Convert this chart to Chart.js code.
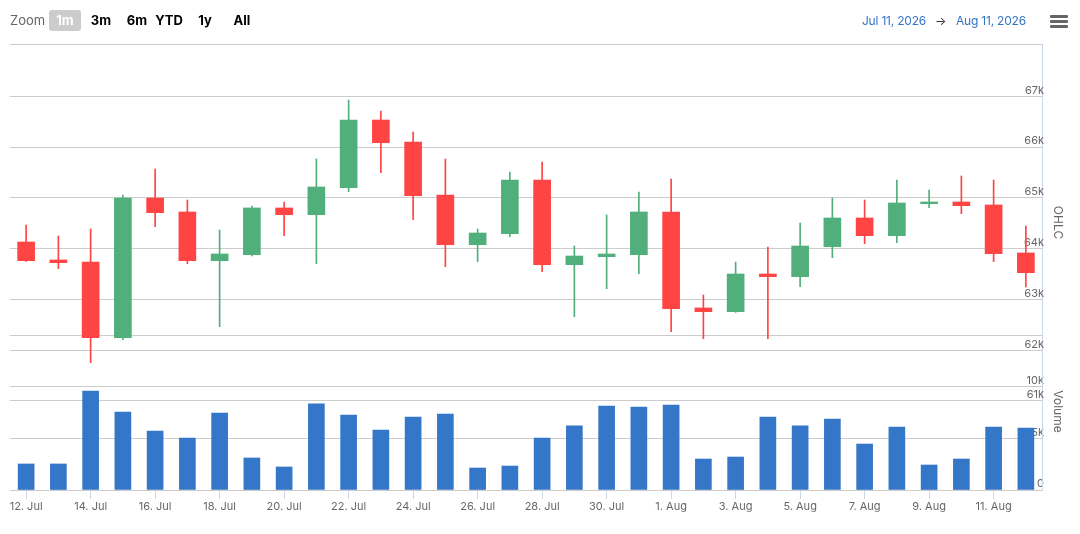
<!DOCTYPE html>
<html>
<head>
<meta charset="utf-8">
<title>OHLC and volume</title>
<script src="https://cdn.jsdelivr.net/npm/chart.js@4.4.1/dist/chart.umd.min.js"></script>
<style>
    html, body { margin: 0; padding: 0; background: #fff; }
    body { position: relative; width: 1080px; height: 534px; overflow: hidden; font-family: Inter, 'Noto Sans', sans-serif; }
    canvas { position: absolute; left: 0; top: 0; }
    .t { position: absolute; font-size: 13px; line-height: 21px; top: 10px; white-space: nowrap; }
    .zoom { left: 10px; color: #666; }
    .btn { width: 32px; text-align: center; font-weight: 700; color: #000; }
    .btn.on { left: 49px; background: #cccccc; color: #fff; border-radius: 3px; }
    .date { color: #3474c4; font-size: 12px; width: 80px; text-align: center; letter-spacing: -0.2px; }
    .menu { position: absolute; left: 1050px; width: 18px; height: 3px; background: #666; border-radius: 1px; }
</style>
</head>
<body>
<canvas id="chart" width="1080" height="534"></canvas>
<span class="t zoom">Zoom</span>
<span class="t btn on">1m</span>
<span class="t btn" style="left:85px">3m</span>
<span class="t btn" style="left:121px">6m</span>
<span class="t btn" style="left:153px">YTD</span>
<span class="t btn" style="left:189px">1y</span>
<span class="t btn" style="left:226px">All</span>
<span class="t date" style="left:854px">Jul 11, 2026</span>
<span class="t" style="left:935px; color:#333; font-size:12px">→</span>
<span class="t date" style="left:951px">Aug 11, 2026</span>
<div class="menu" style="top:15px"></div>
<div class="menu" style="top:20px"></div>
<div class="menu" style="top:25px"></div>
<script>
// daily candles, 12 Jul - 12 Aug
const days = [
    '12. Jul', '13. Jul', '14. Jul', '15. Jul', '16. Jul', '17. Jul', '18. Jul', '19. Jul',
    '20. Jul', '21. Jul', '22. Jul', '23. Jul', '24. Jul', '25. Jul', '26. Jul', '27. Jul',
    '28. Jul', '29. Jul', '30. Jul', '31. Jul', '1. Aug', '2. Aug', '3. Aug', '4. Aug',
    '5. Aug', '6. Aug', '7. Aug', '8. Aug', '9. Aug', '10. Aug', '11. Aug', '12. Aug'
];
const opens = [64131, 63777, 63737, 62247, 64997, 64722, 63763, 63881, 64801, 64669, 65200, 66533, 66100, 65057, 64078, 64295,
    65352, 63684, 63842, 63881, 64722, 62832, 62759, 63501, 63448, 64039, 64604, 64255, 64885, 64919, 64860, 63915];
const highs = [64466, 64249, 64387, 65057, 65569, 64958, 64367, 64840, 64919, 65765, 66927, 66711, 66297, 65765, 64387, 65509,
    65706, 64052, 64663, 65116, 65372, 63088, 63737, 64033, 64505, 64997, 64958, 65352, 65155, 65431, 65352, 64446];
const lows = [63750, 63605, 61755, 62207, 64432, 63704, 62463, 63855, 64255, 63704, 65122, 65496, 64570, 63645, 63743, 64236,
    63546, 62660, 63212, 63507, 62365, 62227, 62745, 62227, 63251, 63822, 64098, 64117, 64807, 64688, 63743, 63245];
const closes = [63763, 63724, 62247, 64997, 64708, 63763, 63895, 64801, 64669, 65214, 66533, 66086, 65043, 64078, 64308, 65352,
    63684, 63855, 63895, 64722, 62818, 62759, 63501, 63448, 64052, 64604, 64255, 64899, 64919, 64846, 63901, 63527];
const volumes = [2520, 2520, 9580, 7550, 5710, 5030, 7450, 3100, 2230, 8330, 7260, 5810, 7070, 7360, 2130, 2320,
    5030, 6200, 8130, 8030, 8230, 3000, 3190, 7070, 6200, 6870, 4450, 6100, 2420, 3000, 6100, 6000];
const priceTicks = [61000, 62000, 63000, 64000, 65000, 66000, 67000];
const volumeTicks = [0, 5000, 10000, 15000];

const UP = '#51af7b';
const DOWN = '#ff4444';
const candleColors = opens.map((o, i) => closes[i] >= o ? UP : DOWN);

const PRICE_MIN = 59247;
const PRICE_MAX = 68030;

// axis titles sit beside their own pane, not the whole plot
const paneTitles = {
    id: 'paneTitles',
    afterDraw (chart) {
        const ctx = chart.ctx;
        ctx.save();
        ctx.fillStyle = '#666';
        ctx.font = '12px Inter, "Noto Sans", sans-serif';
        ctx.textAlign = 'center';
        ctx.textBaseline = 'middle';
        [['OHLC', 222.5], ['Volume', 411.5]].forEach(([txt, y]) => {
            ctx.save();
            ctx.translate(1058, y);
            ctx.rotate(Math.PI / 2);
            ctx.fillText(txt, 0, 0);
            ctx.restore();
        });
        ctx.restore();
    }
};

const noPad = scale => {
    scale.paddingLeft = 0;
    scale.paddingRight = 0;
    scale.paddingTop = 0;
    scale.paddingBottom = 0;
};

new Chart(document.getElementById('chart').getContext('2d'), {
    type: 'bar',
    data: {
        labels: days,
        datasets: [
            {
                label: 'wick',
                data: lows.map((l, i) => [l, highs[i]]),
                backgroundColor: candleColors,
                barThickness: 1,
                grouped: false,
                yAxisID: 'y',
                order: 2
            },
            {
                label: 'OHLC',
                data: opens.map((o, i) => [o, closes[i]]),
                backgroundColor: candleColors,
                barThickness: 17,
                grouped: false,
                yAxisID: 'y',
                order: 1
            },
            {
                label: 'Volume',
                data: volumes,
                backgroundColor: '#3476c7',
                barThickness: 16,
                grouped: false,
                yAxisID: 'yv',
                order: 3
            }
        ]
    },
    options: {
        responsive: false,
        animation: false,
        layout: { padding: { left: 10, top: 44, right: 0, bottom: 0 } },
        plugins: {
            legend: { display: false },
            tooltip: { enabled: false }
        },
        scales: {
            x: {
                offset: true,
                grid: { display: true, drawOnChartArea: false, offset: false, tickLength: 9, tickColor: '#ccd6eb' },
                border: { display: true, color: '#cccccc' },
                ticks: {
                    autoSkip: false,
                    maxRotation: 0,
                    padding: 1,
                    color: '#666',
                    font: { size: 11, family: 'Inter, "Noto Sans", sans-serif' }
                },
                afterBuildTicks: scale => {
                    scale.ticks = scale.ticks.filter((t, i) => i % 2 === 0);
                },
                afterFit: scale => {
                    noPad(scale);
                    scale.height = 44;
                }
            },
            yv: {
                position: 'right',
                weight: 0,
                min: 0,
                max: 43175,
                grid: { color: '#cccccc', drawTicks: false },
                border: { display: false },
                ticks: {
                    mirror: true,
                    padding: 2,
                    labelOffset: -6,
                    color: '#666',
                    font: { size: 11, family: 'Inter, "Noto Sans", sans-serif' },
                    callback: v => v === 15000 ? '' : (v === 0 ? '0' : v / 1000 + 'k')
                },
                afterBuildTicks: scale => {
                    scale.ticks = volumeTicks.map(v => ({ value: v }));
                },
                afterFit: scale => {
                    noPad(scale);
                    scale.width = 0;
                }
            },
            y: {
                position: 'right',
                weight: 1,
                min: PRICE_MIN,
                max: PRICE_MAX,
                grid: { color: '#cccccc', drawTicks: false },
                border: { display: true, color: '#ccd6eb' },
                ticks: {
                    mirror: true,
                    padding: 2,
                    labelOffset: -6,
                    color: '#666',
                    font: { size: 11, family: 'Inter, "Noto Sans", sans-serif' },
                    callback: v => v === PRICE_MAX ? '' : v / 1000 + 'k'
                },
                afterBuildTicks: scale => {
                    scale.ticks = priceTicks.concat([PRICE_MAX]).map(v => ({ value: v }));
                },
                afterFit: scale => {
                    noPad(scale);
                    scale.width = 38;
                }
            }
        }
    },
    plugins: [paneTitles]
});
</script>
</body>
</html>
